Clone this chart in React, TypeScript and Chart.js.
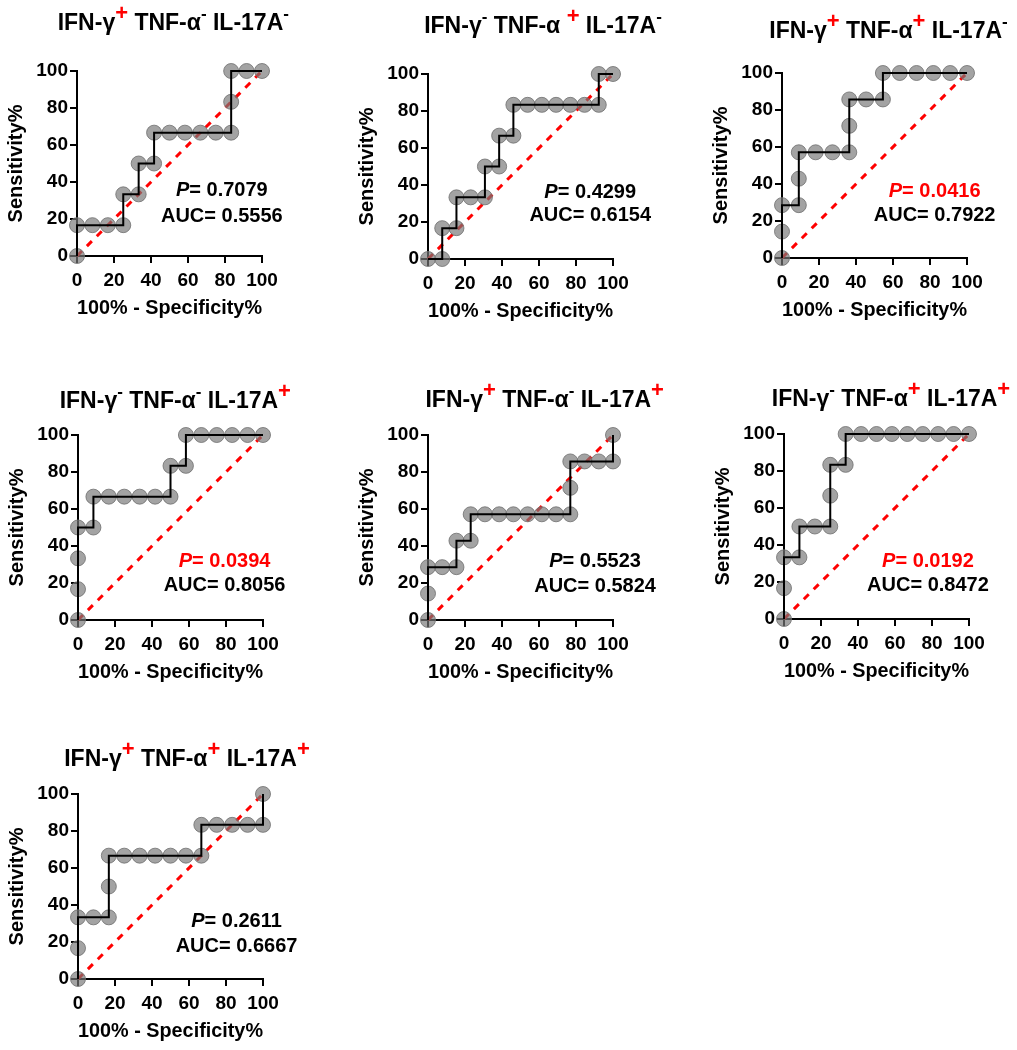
import React, { useEffect, useRef } from 'react';
import { Chart, registerables } from 'chart.js';

Chart.register(...registerables);

const FONT = "'Liberation Sans', Arial, Helvetica, sans-serif";

// ---- data: 100% - specificity (x) and sensitivity (y) for each ROC panel ----
const fpr1 = [0, 0, 8.33, 16.67, 25, 25, 33.33, 33.33, 41.67, 41.67, 50, 58.33, 66.67, 75, 83.33, 83.33, 83.33, 91.67, 100];
const tpr1 = [0, 16.67, 16.67, 16.67, 16.67, 33.33, 33.33, 50, 50, 66.67, 66.67, 66.67, 66.67, 66.67, 66.67, 83.33, 100, 100, 100];

const fpr2 = [0, 7.69, 7.69, 15.38, 15.38, 23.08, 30.77, 30.77, 38.46, 38.46, 46.15, 46.15, 53.85, 61.54, 69.23, 76.92, 84.62, 92.31, 92.31, 100];
const tpr2 = [0, 0, 16.67, 16.67, 33.33, 33.33, 33.33, 50, 50, 66.67, 66.67, 83.33, 83.33, 83.33, 83.33, 83.33, 83.33, 83.33, 100, 100];

const fpr3 = [0, 0, 0, 9.09, 9.09, 9.09, 18.18, 27.27, 36.36, 36.36, 36.36, 45.45, 54.55, 54.55, 63.64, 72.73, 81.82, 90.91, 100];
const tpr3 = [0, 14.29, 28.57, 28.57, 42.86, 57.14, 57.14, 57.14, 57.14, 71.43, 85.71, 85.71, 85.71, 100, 100, 100, 100, 100, 100];

const fpr4 = [0, 0, 0, 0, 8.33, 8.33, 16.67, 25, 33.33, 41.67, 50, 50, 58.33, 58.33, 66.67, 75, 83.33, 91.67, 100];
const tpr4 = [0, 16.67, 33.33, 50, 50, 66.67, 66.67, 66.67, 66.67, 66.67, 66.67, 83.33, 83.33, 100, 100, 100, 100, 100, 100];

const fpr5 = [0, 0, 0, 7.69, 15.38, 15.38, 23.08, 23.08, 30.77, 38.46, 46.15, 53.85, 61.54, 69.23, 76.92, 76.92, 76.92, 84.62, 92.31, 100, 100];
const tpr5 = [0, 14.29, 28.57, 28.57, 28.57, 42.86, 42.86, 57.14, 57.14, 57.14, 57.14, 57.14, 57.14, 57.14, 57.14, 71.43, 85.71, 85.71, 85.71, 85.71, 100];

const fpr6 = [0, 0, 0, 8.33, 8.33, 16.67, 25, 25, 25, 33.33, 33.33, 41.67, 50, 58.33, 66.67, 75, 83.33, 91.67, 100];
const tpr6 = [0, 16.67, 33.33, 33.33, 50, 50, 50, 66.67, 83.33, 83.33, 100, 100, 100, 100, 100, 100, 100, 100, 100];

const fpr7 = [0, 0, 0, 8.33, 16.67, 16.67, 16.67, 25, 33.33, 41.67, 50, 58.33, 66.67, 66.67, 75, 83.33, 91.67, 100, 100];
const tpr7 = [0, 16.67, 33.33, 33.33, 33.33, 50, 66.67, 66.67, 66.67, 66.67, 66.67, 66.67, 66.67, 83.33, 83.33, 83.33, 83.33, 83.33, 100];

const diagonalX = [0, 100];
const diagonalY = [0, 100];

// IFN-γ, TNF-α, IL-17A sign per panel
const titleSigns = [
  ['+', '-', '-'],
  ['-', '+', '-'],
  ['+', '+', '-'],
  ['-', '-', '+'],
  ['+', '-', '+'],
  ['-', '+', '+'],
  ['+', '+', '+'],
];
const pValues = ['0.7079', '0.4299', '0.0416', '0.0394', '0.5523', '0.0192', '0.2611'];
const aucValues = ['0.5556', '0.6154', '0.7922', '0.8056', '0.5824', '0.8472', '0.6667'];
const xTitle = '100% - Specificity%';
const yTitle = 'Sensitivity%';

const panelFpr = [fpr1, fpr2, fpr3, fpr4, fpr5, fpr6, fpr7];
const panelTpr = [tpr1, tpr2, tpr3, tpr4, tpr5, tpr6, tpr7];

// ---- layout (page pixels) ----
const PLOT = 185;
const AX_Y_W = 75;
const AX_X_H = 65;
const PAD_TOP = 70;
const PAD_RIGHT = 60;
const CANVAS_W = AX_Y_W + PLOT + PAD_RIGHT;
const CANVAS_H = PAD_TOP + PLOT + AX_X_H;

const plotOrigins = [
  [76.7, 70.7],
  [428.3, 74],
  [782.3, 73.3],
  [77.7, 435],
  [428.3, 435],
  [784, 434.3],
  [77.7, 794],
];
const titleOffsets = [
  [3.8, -49],
  [22.5, -49],
  [14, -43.3],
  [4.8, -35],
  [24.2, -36.7],
  [14.5, -36.3],
  [16.5, -36.3],
];
// annotation centre (data units): x, y of P line, y of AUC line
const annotPos = [
  [78.3, 35.6, 21.6],
  [87.7, 35.9, 23.4],
  [82.5, 36.1, 23],
  [79.2, 31.6, 18.4],
  [90.3, 31.4, 18],
  [77.8, 31.1, 17.9],
  [85.7, 31, 17.5],
];

function makeOverlay(i: number) {
  return {
    id: 'overlay' + i,
    afterDraw(chart: any) {
      const ctx = chart.ctx as CanvasRenderingContext2D;
      const { left, right, top } = chart.chartArea;
      ctx.save();
      // title
      const signs = titleSigns[i];
      const segs: { t: string; sup: boolean }[] = [
        { t: 'IFN-γ', sup: false },
        { t: signs[0], sup: true },
        { t: ' TNF-α' + (i === 1 ? ' ' : ''), sup: false },
        { t: signs[1], sup: true },
        { t: ' IL-17A', sup: false },
        { t: signs[2], sup: true },
      ];
      const mainFont = `bold 23px ${FONT}`;
      const plusFont = `bold 22px ${FONT}`;
      const minusFont = `bold 17px ${FONT}`;
      const fontFor = (s: { t: string; sup: boolean }) =>
        !s.sup ? mainFont : s.t === '+' ? plusFont : minusFont;
      let total = 0;
      const widths = segs.map((s) => {
        ctx.font = fontFor(s);
        const w = ctx.measureText(s.t).width;
        total += w;
        return w;
      });
      const cx = (left + right) / 2 + titleOffsets[i][0];
      const cy = top + titleOffsets[i][1];
      const base = cy + 8.3;
      let x = cx - total / 2;
      ctx.textAlign = 'left';
      ctx.textBaseline = 'alphabetic';
      segs.forEach((s, k) => {
        ctx.font = fontFor(s);
        if (s.sup) {
          ctx.fillStyle = s.t === '+' ? '#ff0000' : '#000000';
          ctx.fillText(s.t, x, base - (s.t === '+' ? 10 : 11));
        } else {
          ctx.fillStyle = '#000000';
          ctx.fillText(s.t, x, base);
        }
        x += widths[k];
      });

      // annotation
      const xs = chart.scales.x;
      const ys = chart.scales.y;
      const a = annotPos[i];
      const ax = xs.getPixelForValue(a[0]);
      const yP = ys.getPixelForValue(a[1]);
      const yA = ys.getPixelForValue(a[2]);
      const sig = parseFloat(pValues[i]) < 0.05;
      const aFont = `bold 20px ${FONT}`;
      const aFontIt = `italic bold 20px ${FONT}`;
      ctx.textBaseline = 'middle';
      ctx.font = aFontIt;
      const wP = ctx.measureText('P').width;
      const rest = '= ' + pValues[i];
      ctx.font = aFont;
      const wR = ctx.measureText(rest).width;
      const sx = ax - (wP + wR) / 2;
      ctx.fillStyle = sig ? '#ff0000' : '#000000';
      ctx.font = aFontIt;
      ctx.fillText('P', sx, yP);
      ctx.font = aFont;
      ctx.fillText(rest, sx + wP, yP);
      ctx.fillStyle = '#000000';
      ctx.textAlign = 'center';
      ctx.fillText('AUC= ' + aucValues[i], ax, yA);
      ctx.restore();
    },
  };
}

function RocPanel({ index }: { index: number }) {
  const ref = useRef<HTMLCanvasElement | null>(null);
  useEffect(() => {
    if (!ref.current) return;
    const fpr = panelFpr[index];
    const tpr = panelTpr[index];
    const pts = fpr.map((v, k) => ({ x: v, y: tpr[k] }));
    const diag = diagonalX.map((v, k) => ({ x: v, y: diagonalY[k] }));
    const tickFont = { family: FONT, size: 19, weight: 'bold' as const };
    const titleFont = { family: FONT, size: 20, weight: 'bold' as const };
    const chart = new Chart(ref.current, {
      type: 'scatter',
      data: {
        datasets: [
          {
            data: pts,
            showLine: true,
            borderColor: '#000000',
            borderWidth: 2,
            pointRadius: 0,
            tension: 0,
            fill: false,
            order: 0,
            clip: false as any,
          },
          {
            data: pts,
            showLine: false,
            pointRadius: 7.5,
            pointBackgroundColor: 'rgba(120,120,120,0.68)',
            pointBorderColor: 'rgba(110,110,110,0.8)',
            pointBorderWidth: 1,
            order: 1,
            clip: false as any,
          },
          {
            data: diag,
            showLine: true,
            borderColor: '#ff0000',
            borderWidth: 3,
            borderDash: [7, 7],
            pointRadius: 0,
            order: 2,
            clip: false as any,
          },
        ],
      } as any,
      options: {
        animation: false,
        responsive: false,
        maintainAspectRatio: false,
        layout: { padding: { top: PAD_TOP, right: PAD_RIGHT, bottom: 0, left: 0 } },
        plugins: {
          legend: { display: false },
          tooltip: { enabled: false },
          title: { display: false },
        },
        scales: {
          x: {
            type: 'linear',
            min: 0,
            max: 100,
            ticks: { stepSize: 20, color: '#000', font: tickFont, padding: 6, maxRotation: 0 },
            grid: { drawOnChartArea: false, drawTicks: true, tickLength: 7, lineWidth: 2, tickWidth: 2, color: '#000' },
            border: { display: true, color: '#000', width: 2 },
            title: { display: true, text: xTitle, color: '#000', font: titleFont, padding: { top: 0, bottom: 1 } },
            afterFit: (s: any) => {
              s.height = AX_X_H;
            },
          },
          y: {
            type: 'linear',
            min: 0,
            max: 100,
            ticks: { stepSize: 20, color: '#000', font: tickFont, padding: 2 },
            grid: { drawOnChartArea: false, drawTicks: true, tickLength: 7, lineWidth: 2, tickWidth: 2, color: '#000' },
            border: { display: true, color: '#000', width: 2 },
            title: { display: true, text: yTitle, color: '#000', font: titleFont, padding: { top: 2, bottom: 0 } },
            afterFit: (s: any) => {
              s.width = AX_Y_W;
            },
          },
        },
      } as any,
      plugins: [makeOverlay(index)],
    });
    return () => chart.destroy();
  }, [index]);
  const [px, py] = plotOrigins[index];
  return (
    <canvas
      ref={ref}
      width={CANVAS_W}
      height={CANVAS_H}
      style={{
        position: 'absolute',
        left: Math.round(px - AX_Y_W),
        top: Math.round(py - PAD_TOP),
        width: CANVAS_W,
        height: CANVAS_H,
      }}
    />
  );
}

export default function App() {
  return (
    <div
      style={{
        position: 'absolute',
        left: 0,
        top: 0,
        width: 1017,
        height: 1050,
        overflow: 'hidden',
        background: '#ffffff',
      }}
    >
      {panelFpr.map((_, i) => (
        <RocPanel key={i} index={i} />
      ))}
    </div>
  );
}
